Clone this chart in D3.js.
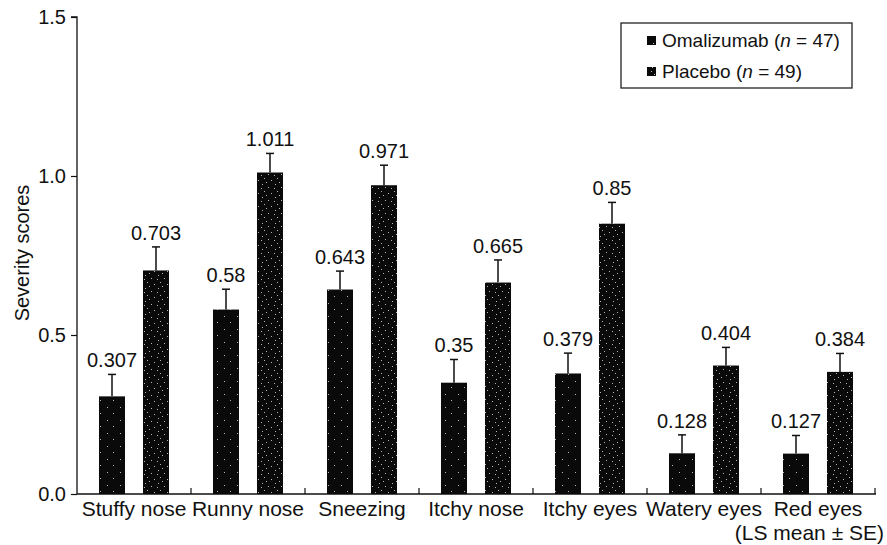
<!DOCTYPE html>
<html><head><meta charset="utf-8">
<script src="https://cdn.jsdelivr.net/npm/d3@7"></script>
<style>body{margin:0;background:#fff}svg{display:block}text{font-family:"Liberation Sans",Arial,sans-serif;fill:#111}</style>
</head><body>
<script>
const categories = ["Stuffy nose","Runny nose","Sneezing","Itchy nose","Itchy eyes","Watery eyes","Red eyes"];
const omalizumab = [0.307,0.58,0.643,0.35,0.379,0.128,0.127];
const placebo = [0.703,1.011,0.971,0.665,0.85,0.404,0.384];
const omalSE = [0.069,0.064,0.058,0.073,0.064,0.058,0.057];
const placeboSE = [0.074,0.06,0.063,0.071,0.067,0.057,0.058];
const omalLabels = ["0.307","0.58","0.643","0.35","0.379","0.128","0.127"];
const placeboLabels = ["0.703","1.011","0.971","0.665","0.85","0.404","0.384"];
const yTicks = [0,0.5,1.0,1.5];
const seriesNames = ["Omalizumab","Placebo"];
const seriesN = [47,49];

const W=887,H=545;
const svg=d3.select("body").append("svg").attr("width",W).attr("height",H);
const defs=svg.append("defs");
function speckle(id,dots){
  const p=defs.append("pattern").attr("id",id).attr("patternUnits","userSpaceOnUse").attr("width",13).attr("height",13);
  p.append("rect").attr("width",13).attr("height",13).attr("fill","#0a0a0a");
  dots.forEach(d=>p.append("rect").attr("x",d[0]).attr("y",d[1]).attr("width",1).attr("height",1).attr("fill","#fff").attr("opacity",0.7));
}
speckle("pOm",[[3,4],[9,10]]);
speckle("pPl",[[2,2],[8,5],[4,9],[11,11],[6,0],[1,6]]);

const x=d3.scaleBand().domain(categories).range([77,875]);
const y=d3.scaleLinear().domain([0,1.5]).range([494,17]);
const barW=26;
const offOm=22, offPl=66;

// axes
const ya=svg.append("g").attr("transform","translate(77,0)")
  .call(d3.axisLeft(y).tickValues(yTicks).tickFormat(d3.format(".1f")).tickSize(6).tickPadding(5));
ya.select(".domain").attr("stroke","#111").attr("stroke-width",1.3).attr("d","M-6,17H0V494");
ya.selectAll(".tick line").attr("stroke","#111").attr("stroke-width",1.2);
ya.selectAll(".tick text").attr("font-size",20).attr("fill","#111").attr("font-family","Liberation Sans, Arial, sans-serif");

const xa=svg.append("g").attr("transform","translate(0,494)");
xa.append("line").attr("x1",77).attr("x2",876).attr("y1",0).attr("y2",0).attr("stroke","#111").attr("stroke-width",1.3);
categories.forEach((c,i)=>{
  const bx=x(c)+x.bandwidth();
  xa.append("line").attr("x1",bx).attr("x2",bx).attr("y1",0).attr("y2",-6).attr("stroke","#111").attr("stroke-width",1.2);
  xa.append("text").attr("x",x(c)+x.bandwidth()/2).attr("y",22).attr("text-anchor","middle").attr("font-size",21).text(c);
});
svg.append("text").attr("x",884).attr("y",540).attr("text-anchor","end").attr("font-size",21).text("(LS mean \u00B1 SE)");

svg.append("text").attr("transform","translate(29,253) rotate(-90)").attr("text-anchor","middle").attr("font-size",20).text("Severity scores");

function drawSeries(vals,se,labels,off,fill){
  const g=svg.append("g");
  vals.forEach((v,i)=>{
    const cx=x(categories[i])+off;
    g.append("rect").attr("x",cx).attr("y",y(v)).attr("width",barW).attr("height",y(0)-y(v)).attr("fill",fill);
    const mx=cx+barW/2, top=y(v+se[i]);
    g.append("line").attr("x1",mx).attr("x2",mx).attr("y1",y(v)).attr("y2",top).attr("stroke","#111").attr("stroke-width",1.5);
    g.append("line").attr("x1",mx-4).attr("x2",mx+4).attr("y1",top).attr("y2",top).attr("stroke","#111").attr("stroke-width",1.5);
    g.append("text").attr("x",mx).attr("y",top-7).attr("text-anchor","middle").attr("font-size",20).text(labels[i]);
  });
}
drawSeries(omalizumab,omalSE,omalLabels,offOm,"url(#pOm)");
drawSeries(placebo,placeboSE,placeboLabels,offPl,"url(#pPl)");

// legend
const lg=svg.append("g");
lg.append("rect").attr("x",621).attr("y",23).attr("width",231).attr("height",65).attr("fill","#fff").attr("stroke","#222").attr("stroke-width",1.3);
["url(#pOm)","url(#pPl)"].forEach((f,i)=>{
  const yy=47+i*31;
  lg.append("rect").attr("x",647).attr("y",yy-11).attr("width",9).attr("height",9).attr("fill",f);
  const t=lg.append("text").attr("x",662).attr("y",yy).attr("font-size",19);
  t.append("tspan").text(seriesNames[i]+" (");
  t.append("tspan").attr("font-style","italic").text("n");
  t.append("tspan").text(" = "+seriesN[i]+")");
});
</script>
</body></html>
